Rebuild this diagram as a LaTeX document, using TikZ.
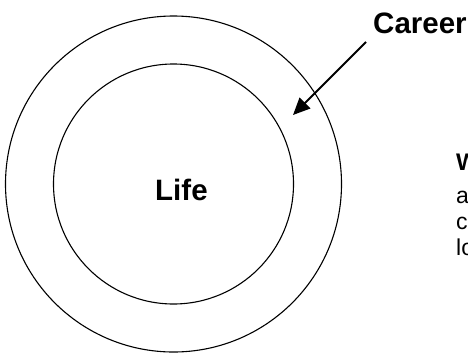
\documentclass[tikz,border=0pt]{standalone}
\usepackage{fontspec}
\setmainfont{Liberation Sans}
\usetikzlibrary{arrows.meta}
\tikzset{
  ring/.style={draw=black, line width=1.1pt},
  lbl/.style={inner sep=0pt, anchor=base west, font=\fontsize{29.5}{32}\selectfont\bfseries},
  body/.style={inner sep=0pt, anchor=base west, font=\fontsize{23}{26}\selectfont},
  pointer/.style={draw=black, line width=2pt, -{Triangle[length=17pt,width=15pt]}}
}
\begin{document}
\begin{tikzpicture}[x=1pt,y=-1pt]
\useasboundingbox (0,0) rectangle (468,354);
\clip (0,0) rectangle (468,354);
\node[ring, circle, minimum size=336pt, inner sep=0pt] (outer) at (173.5,184) {};
\node[ring, circle, minimum size=240pt, inner sep=0pt] (inner) at (173.5,184) {};
\node[lbl] (life) at (155,200) {Life};
\node[lbl] (career) at (373,33) {Career};
\coordinate (tail) at (366,42);
\coordinate (tip) at (293,115);
\draw[pointer] (tail) -- (tip);
\node[lbl, font=\fontsize{24}{27}\selectfont\bfseries] (w) at (456,170) {W};
\node[body] (la) at (456,203) {a};
\node[body] (lc) at (456,229) {c};
\node[body] (llo) at (456,255) {lo};
\end{tikzpicture}
\end{document}
